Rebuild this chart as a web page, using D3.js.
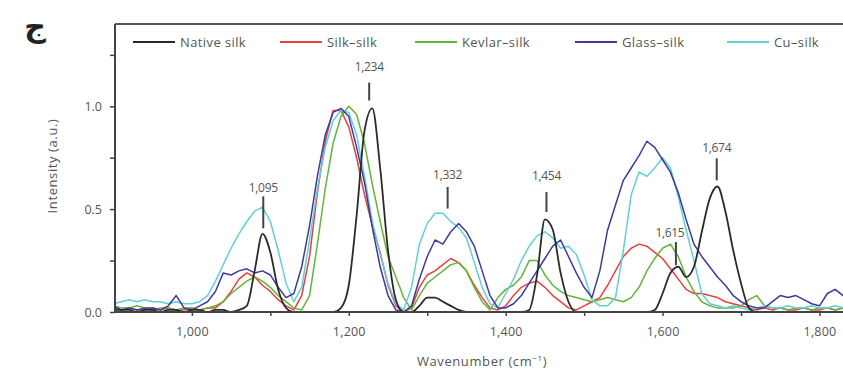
<!DOCTYPE html>
<html>
<head>
<meta charset="utf-8">
<script src="https://cdn.jsdelivr.net/npm/d3@7/dist/d3.min.js"></script>
<style>
  html, body { margin: 0; padding: 0; background: #fff; overflow: hidden; }
  text { font-family: "Open Sans", Lato, sans-serif; fill: #555; }
</style>
</head>
<body>
<div id="chart"></div>
<script>
// sample positions (cm-1), one reading every 10 from 900 to 1840
var wavenumbers = d3.range(900, 1850, 10);

// series
var nativeSilk = [0.01,0.01,0.01,0.00,0.01,0.01,0.00,0.01,0.01,0.00,0.01,0.01,0.00,0.01,0.01,0.00,
  0.01,0.03,0.20,0.38,0.29,0.11,0.02,
  0,0,0,0,0,0,
  0.02,0.13,0.47,0.88,0.99,0.70,0.30,0.06,0.00,
  0.00,0.03,0.07,0.07,0.05,0.03,0.01,0.00,
  0,0,0,0,0,0,0,
  0.01,0.18,0.45,0.40,0.19,0.05,0.00,
  0,0,0,0,0,0,0,0,0,
  0.01,0.09,0.19,0.22,0.17,0.22,0.39,0.55,0.61,0.49,0.30,0.14,0.02,
  0,0,0,0,0,0,0,0,0,0,0,0,0];

var silkSilk = [0.02,0.01,0.02,0.01,0.01,0.02,0.01,0.02,0.01,0.01,0.02,0.01,0.02,0.02,
  0.05,0.10,0.16,0.19,0.17,0.13,0.10,0.06,0.03,0.01,
  0.08,0.27,0.58,0.83,0.98,0.98,0.90,0.75,0.57,0.42,0.29,0.13,0.03,0.00,
  0.02,0.12,0.18,0.20,0.23,0.26,0.24,0.20,0.13,0.07,0.02,0.01,
  0.03,0.08,0.12,0.14,0.15,0.12,0.08,0.05,0.02,0.01,
  0.03,0.05,0.07,0.13,0.20,0.27,0.31,0.33,0.32,0.29,0.26,
  0.21,0.16,0.11,0.09,0.09,0.08,0.07,0.05,0.04,0.03,0.02,0.01,
  0.02,0.01,0.02,0.01,0.01,0.02,0.01,0.01,0.02,0.01,0.02,0.01];

var kevlarSilk = [0.03,0.02,0.02,0.03,0.02,0.01,0.02,0.02,0.01,0.02,0.02,0.01,0.02,0.03,
  0.05,0.09,0.12,0.15,0.17,0.15,0.12,0.08,0.05,0.02,0.01,
  0.08,0.33,0.60,0.82,0.95,1.00,0.96,0.82,0.62,0.44,0.27,0.17,0.07,0.01,
  0.08,0.14,0.17,0.20,0.23,0.24,0.20,0.12,0.05,0.01,
  0.07,0.11,0.13,0.17,0.25,0.25,0.18,0.13,0.10,0.08,0.07,0.06,
  0.05,0.06,0.07,0.06,0.05,0.07,0.12,0.20,0.26,0.31,0.33,0.27,
  0.17,0.10,0.05,0.03,0.02,0.02,0.02,0.03,0.06,0.08,0.03,0.02,
  0.02,0.01,0.02,0.02,0.01,0.02,0.02,0.01,0.02,0.02];

var glassSilk = [0.03,0.01,0.02,0.01,0.02,0.02,0.01,0.03,0.08,0.02,0.01,0.03,0.05,0.10,
  0.19,0.18,0.20,0.21,0.19,0.20,0.18,0.12,0.07,0.09,
  0.22,0.42,0.66,0.86,0.97,0.99,0.95,0.80,0.63,0.41,0.22,0.08,0.01,
  0.00,0.03,0.16,0.27,0.35,0.33,0.39,0.43,0.39,0.32,0.20,0.08,0.02,
  0.02,0.04,0.08,0.14,0.20,0.26,0.32,0.35,0.27,0.19,0.12,0.07,
  0.20,0.40,0.52,0.64,0.70,0.76,0.83,0.80,0.74,0.68,0.58,0.45,
  0.33,0.27,0.22,0.17,0.13,0.08,0.05,0.03,0.02,0.02,0.05,
  0.08,0.07,0.08,0.06,0.04,0.03,0.09,0.11,0.08,0.10];

var cuSilk = [0.04,0.05,0.06,0.05,0.06,0.05,0.05,0.04,0.05,0.04,0.04,0.05,0.08,0.15,
  0.23,0.31,0.38,0.44,0.49,0.51,0.44,0.30,0.14,0.05,
  0.12,0.35,0.60,0.80,0.93,0.98,0.97,0.86,0.66,0.44,0.28,0.14,0.04,0.01,
  0.12,0.33,0.43,0.48,0.48,0.44,0.41,0.36,0.24,0.12,0.04,0.02,
  0.09,0.16,0.25,0.32,0.37,0.39,0.36,0.31,0.32,0.28,0.18,0.06,0.03,
  0.03,0.07,0.30,0.57,0.68,0.66,0.70,0.75,0.70,0.56,0.40,0.25,
  0.09,0.04,0.03,0.02,0.03,0.02,0.01,0.02,0.03,0.02,
  0.02,0.03,0.02,0.02,0.03,0.02,0.02,0.03,0.02,0.03];

var seriesNames = ["Native silk", "Silk\u2013silk", "Kevlar\u2013silk", "Glass\u2013silk", "Cu\u2013silk"];

// peak annotations: label, wavenumber, text height, line top, line bottom
var peakLabels = ["1,095", "1,234", "1,332", "1,454", "1,615", "1,674"];
var peakX      = [1091, 1226, 1326, 1452, 1617, 1669];
var peakTextY  = [0.606, 1.19, 0.669, 0.66, 0.387, 0.796];
var peakTop    = [0.562, 1.115, 0.608, 0.583, 0.34, 0.747];
var peakBottom = [0.407, 1.028, 0.503, 0.486, 0.227, 0.64];

var xMajor = [1000, 1200, 1400, 1600, 1800];
var xMinor = [1100, 1300, 1500, 1700];
var yMajor = [0, 0.5, 1.0];
var yMinor = [0.25, 0.75, 1.25];

//svg container
var svgWidth = 843, svgHeight = 373;
var margin = {top: 24, left: 115};
var plotBottom = 312;

var svg = d3.select("#chart").append("svg")
  .attr("width", svgWidth)
  .attr("height", svgHeight);

var x = d3.scaleLinear().domain([902, 1852]).range([margin.left, margin.left + 950 * 0.7845]);
var y = d3.scaleLinear().domain([0, 1.4]).range([plotBottom, margin.top]);

svg.append("clipPath").attr("id", "clip")
  .append("rect")
  .attr("x", margin.left).attr("y", margin.top - 2)
  .attr("width", svgWidth - margin.left).attr("height", plotBottom - margin.top + 4);

// panel letter
svg.append("text")
  .attr("x", 35).attr("y", 37)
  .attr("text-anchor", "middle")
  .style("font-family", "'DejaVu Sans', sans-serif")
  .style("font-weight", "bold")
  .style("font-size", "30px")
  .style("fill", "#222")
  .text("\u062C");

// lines
var colors = ["#2a2a2a", "#e8403f", "#62b53a", "#3d3a9e", "#62cfd6"];
var allSeries = [nativeSilk, silkSilk, kevlarSilk, glassSilk, cuSilk];
var drawOrder = [1, 2, 4, 3, 0];

var lineGroup = svg.append("g").attr("clip-path", "url(#clip)");
drawOrder.forEach(function(k) {
  var line = d3.line()
    .x(function(d, i) { return x(wavenumbers[i]); })
    .y(function(d) { return y(d); })
    .curve(k === 0 ? d3.curveMonotoneX : d3.curveLinear);
  lineGroup.append("path")
    .datum(allSeries[k])
    .attr("fill", "none")
    .attr("stroke", colors[k])
    .attr("stroke-width", k === 0 ? 1.8 : 1.5)
    .attr("stroke-linejoin", "round")
    .attr("d", line);
});

// x axis
var xAxis = d3.axisBottom(x).tickValues(xMajor).tickSize(4).tickPadding(11)
  .tickFormat(d3.format(","));
var gx = svg.append("g").attr("transform", "translate(0," + plotBottom + ")").call(xAxis);
gx.select(".domain").remove();
gx.selectAll(".tick line").attr("stroke", "#444").attr("stroke-width", 1.5);
gx.selectAll("text").style("font-size", "12.5px").style("fill", "#555").style("letter-spacing", "0.2px");
svg.append("g").attr("transform", "translate(0," + plotBottom + ")")
  .call(d3.axisBottom(x).tickValues(xMinor).tickSize(4).tickFormat(""))
  .call(function(g) { g.select(".domain").remove(); })
  .selectAll(".tick line").attr("stroke", "#444").attr("stroke-width", 1.5);

// y axis
var yAxis = d3.axisLeft(y).tickValues(yMajor).tickSize(5).tickPadding(8)
  .tickFormat(d3.format(".1f"));
var gy = svg.append("g").attr("transform", "translate(" + margin.left + ",0)").call(yAxis);
gy.select(".domain").remove();
gy.selectAll(".tick line").attr("stroke", "#444").attr("stroke-width", 1.5);
gy.selectAll("text").style("font-size", "12.5px").style("fill", "#555");
svg.append("g").attr("transform", "translate(" + margin.left + ",0)")
  .call(d3.axisLeft(y).tickValues(yMinor).tickSize(5).tickFormat(""))
  .call(function(g) { g.select(".domain").remove(); })
  .selectAll(".tick line").attr("stroke", "#444").attr("stroke-width", 1.5);

// frame: left, bottom, top
svg.append("line").attr("x1", margin.left).attr("x2", margin.left)
  .attr("y1", margin.top).attr("y2", plotBottom).attr("stroke", "#444").attr("stroke-width", 2);
svg.append("line").attr("x1", margin.left).attr("x2", svgWidth)
  .attr("y1", plotBottom).attr("y2", plotBottom).attr("stroke", "#444").attr("stroke-width", 2);
svg.append("line").attr("x1", margin.left).attr("x2", svgWidth)
  .attr("y1", margin.top).attr("y2", margin.top).attr("stroke", "#555").attr("stroke-width", 2);

// axis titles
svg.append("text")
  .attr("x", 482).attr("y", 366)
  .attr("text-anchor", "middle")
  .style("font-size", "13px")
  .style("letter-spacing", "0.6px")
  .html("Wavenumber (cm<tspan dy='-5' style='font-size:8px'>\u22121</tspan><tspan dy='5'>)</tspan>");
svg.append("text")
  .attr("transform", "translate(57,166) rotate(-90)")
  .attr("text-anchor", "middle")
  .style("font-size", "13px")
  .style("letter-spacing", "0.6px")
  .text("Intensity (a.u.)");

// legend
var legendX = [133, 280, 415, 575, 727];
var legend = svg.append("g");
seriesNames.forEach(function(name, k) {
  legend.append("line")
    .attr("x1", legendX[k]).attr("x2", legendX[k] + 42)
    .attr("y1", 42).attr("y2", 42)
    .attr("stroke", colors[k]).attr("stroke-width", 2);
  legend.append("text")
    .attr("x", legendX[k] + 47).attr("y", 46.5)
    .style("font-size", "13px")
    .style("letter-spacing", "0.4px")
    .text(name);
});

// peak annotations
peakLabels.forEach(function(lab, i) {
  svg.append("line")
    .attr("x1", x(peakX[i])).attr("x2", x(peakX[i]))
    .attr("y1", y(peakTop[i])).attr("y2", y(peakBottom[i]))
    .attr("stroke", "#444").attr("stroke-width", 2);
  svg.append("text")
    .attr("x", x(peakX[i]) + (i === 4 ? -6 : 0)).attr("y", y(peakTextY[i]))
    .attr("dy", "0.35em")
    .attr("text-anchor", "middle")
    .style("font-size", "12px")
    .style("letter-spacing", "-0.3px")
    .text(lab);
});
</script>
</body>
</html>
